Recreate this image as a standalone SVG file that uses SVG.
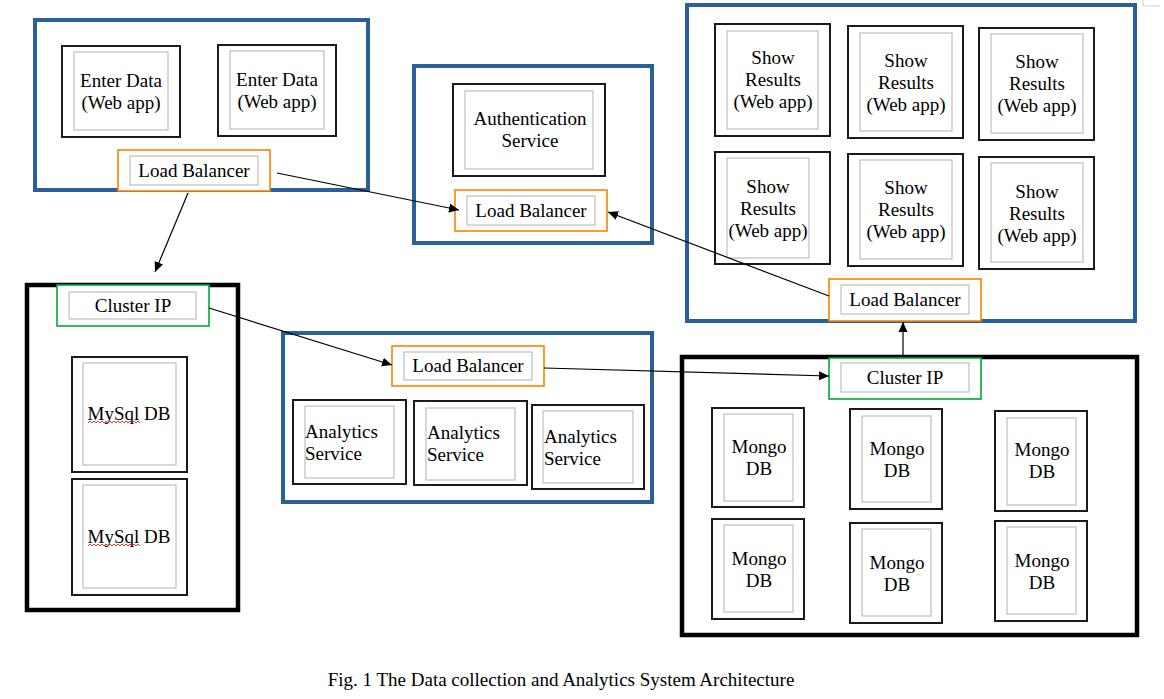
<svg xmlns="http://www.w3.org/2000/svg" width="1164" height="699" viewBox="0 0 1164 699">
<style>
.bg{fill:#fff}
.cb{fill:none;stroke:#2a6099;stroke-width:4}
.ck{fill:none;stroke:#000;stroke-width:4.5}
.bx{fill:#fff;stroke:#1a1a1a;stroke-width:2}
.in{fill:none;stroke:#bfbfbf;stroke-width:1.2}
.lb{fill:#fff;stroke:#ff8000;stroke-width:1.6}
.ip{fill:#fff;stroke:#00a933;stroke-width:1.6}
text{font-family:"Liberation Serif","Times New Roman",serif;font-size:19px;fill:#000}
.c{text-anchor:middle}
.cn{fill:none;stroke:#000;stroke-width:1.2}
.sq{fill:none;stroke:#e02020;stroke-width:0.9}
</style>
<defs>
<marker id="ah" viewBox="0 0 10 10" refX="10" refY="5" markerWidth="10" markerHeight="10" markerUnits="userSpaceOnUse" orient="auto">
<path d="M0,0.5 L10,5 L0,9.5 Z" fill="#000"/>
</marker>
</defs>
<rect class="bg" x="0" y="0" width="1164" height="699"/>
<polyline points="1143,0 1143,6 1160,6" fill="none" stroke="#d0d0d0" stroke-width="1.2"/>

<g id="enter-data-group">
<rect class="cb" x="35" y="20" width="333" height="170"/>
<g id="enter-data-1">
<rect class="bx" x="62" y="46" width="118" height="91"/>
<rect class="in" x="74" y="52" width="94" height="78"/>
<text class="c" x="121" y="87">Enter Data</text>
<text class="c" x="121" y="109">(Web app)</text>
</g>
<g id="enter-data-2">
<rect class="bx" x="218" y="45" width="118" height="91"/>
<rect class="in" x="230" y="51" width="94" height="78"/>
<text class="c" x="277" y="86">Enter Data</text>
<text class="c" x="277" y="108">(Web app)</text>
</g>
<g id="lb-enter">
<rect class="lb" x="118" y="150" width="152" height="41"/>
<rect class="in" x="130" y="156" width="128" height="29"/>
<text class="c" x="194" y="177">Load Balancer</text>
</g>
</g>

<g id="auth-group">
<rect class="cb" x="414" y="66" width="238" height="177"/>
<g id="auth-service">
<rect class="bx" x="453" y="84" width="152" height="92"/>
<rect class="in" x="465" y="91" width="128" height="78"/>
<text class="c" x="530" y="125">Authentication</text>
<text class="c" x="530" y="147">Service</text>
</g>
<g id="lb-auth">
<rect class="lb" x="455" y="190" width="152" height="41"/>
<rect class="in" x="467" y="196" width="128" height="29"/>
<text class="c" x="531" y="217">Load Balancer</text>
</g>
</g>

<g id="show-results-group">
<rect class="cb" x="687" y="5" width="448" height="316"/>
<g id="show-1">
<rect class="bx" x="715" y="24" width="115" height="112"/>
<rect class="in" x="727" y="31" width="91" height="98"/>
<text class="c" x="773" y="64">Show</text>
<text class="c" x="773" y="86">Results</text>
<text class="c" x="773" y="108">(Web app)</text>
</g>
<g id="show-2">
<rect class="bx" x="848" y="26" width="115" height="112"/>
<rect class="in" x="860" y="33" width="92" height="98"/>
<text class="c" x="906" y="67">Show</text>
<text class="c" x="906" y="89">Results</text>
<text class="c" x="906" y="111">(Web app)</text>
</g>
<g id="show-3">
<rect class="bx" x="979" y="28" width="115" height="112"/>
<rect class="in" x="991" y="34" width="92" height="99"/>
<text class="c" x="1037" y="68">Show</text>
<text class="c" x="1037" y="90">Results</text>
<text class="c" x="1037" y="112">(Web app)</text>
</g>
<g id="show-4">
<rect class="bx" x="715" y="152" width="115" height="112"/>
<rect class="in" x="727" y="158" width="82" height="100"/>
<text class="c" x="768" y="193">Show</text>
<text class="c" x="768" y="215">Results</text>
<text class="c" x="768" y="237">(Web app)</text>
</g>
<g id="show-5">
<rect class="bx" x="848" y="154" width="115" height="112"/>
<rect class="in" x="860" y="160" width="92" height="99"/>
<text class="c" x="906" y="194">Show</text>
<text class="c" x="906" y="216">Results</text>
<text class="c" x="906" y="238">(Web app)</text>
</g>
<g id="show-6">
<rect class="bx" x="979" y="157" width="115" height="112"/>
<rect class="in" x="991" y="163" width="92" height="99"/>
<text class="c" x="1037" y="198">Show</text>
<text class="c" x="1037" y="220">Results</text>
<text class="c" x="1037" y="242">(Web app)</text>
</g>
<g id="lb-show">
<rect class="lb" x="829" y="279" width="152" height="42"/>
<rect class="in" x="841" y="285" width="128" height="29"/>
<text class="c" x="905" y="306">Load Balancer</text>
</g>
</g>

<g id="mysql-group">
<rect class="ck" x="27" y="285" width="211" height="325"/>
<g id="cluster-ip-mysql">
<rect class="ip" x="57" y="285" width="152" height="41"/>
<rect class="in" x="69" y="292" width="127" height="27"/>
<text class="c" x="133" y="312">Cluster IP</text>
</g>
<g id="mysql-1">
<rect class="bx" x="72" y="357" width="115" height="115"/>
<rect class="in" x="83" y="363" width="93" height="102"/>
<text class="c" x="129" y="420">MySql DB</text>
<path class="sq" d="M88,423 l2,-2 l2,2 l2,-2 l2,2 l2,-2 l2,2 l2,-2 l2,2 l2,-2 l2,2 l2,-2 l2,2 l2,-2 l2,2 l2,-2 l2,2 l2,-2 l2,2 l2,-2 l2,2 l2,-2 l2,2 l2,-2 l2,2 l2,-2 l2,2"/>
</g>
<g id="mysql-2">
<rect class="bx" x="72" y="479" width="115" height="116"/>
<rect class="in" x="83" y="485" width="93" height="103"/>
<text class="c" x="129" y="543">MySql DB</text>
<path class="sq" d="M88,546 l2,-2 l2,2 l2,-2 l2,2 l2,-2 l2,2 l2,-2 l2,2 l2,-2 l2,2 l2,-2 l2,2 l2,-2 l2,2 l2,-2 l2,2 l2,-2 l2,2 l2,-2 l2,2 l2,-2 l2,2 l2,-2 l2,2 l2,-2 l2,2"/>
</g>
</g>

<g id="analytics-group">
<rect class="cb" x="283" y="333" width="369" height="169"/>
<g id="lb-analytics">
<rect class="lb" x="392" y="346" width="152" height="40"/>
<rect class="in" x="404" y="352" width="128" height="28"/>
<text class="c" x="468" y="372">Load Balancer</text>
</g>
<g id="analytics-1">
<rect class="bx" x="293" y="400" width="113" height="84"/>
<rect class="in" x="305" y="406" width="89" height="72"/>
<text x="305" y="438">Analytics</text>
<text x="305" y="460">Service</text>
</g>
<g id="analytics-2">
<rect class="bx" x="414" y="401" width="113" height="84"/>
<rect class="in" x="426" y="408" width="89" height="72"/>
<text x="427" y="439">Analytics</text>
<text x="427" y="461">Service</text>
</g>
<g id="analytics-3">
<rect class="bx" x="532" y="405" width="112" height="84"/>
<rect class="in" x="543" y="411" width="90" height="72"/>
<text x="544" y="443">Analytics</text>
<text x="544" y="465">Service</text>
</g>
</g>

<g id="mongo-group">
<rect class="ck" x="682" y="357" width="455" height="278"/>
<g id="cluster-ip-mongo">
<rect class="ip" x="829" y="358" width="152" height="41"/>
<rect class="in" x="841" y="363" width="128" height="29"/>
<text class="c" x="905" y="384">Cluster IP</text>
</g>
<g id="mongo-1">
<rect class="bx" x="712" y="408" width="92" height="99"/>
<rect class="in" x="724" y="414" width="69" height="87"/>
<text class="c" x="759" y="453">Mongo</text>
<text class="c" x="759" y="475">DB</text>
</g>
<g id="mongo-2">
<rect class="bx" x="850" y="409" width="92" height="100"/>
<rect class="in" x="862" y="416" width="69" height="86"/>
<text class="c" x="897" y="455">Mongo</text>
<text class="c" x="897" y="477">DB</text>
</g>
<g id="mongo-3">
<rect class="bx" x="995" y="411" width="92" height="100"/>
<rect class="in" x="1007" y="418" width="69" height="87"/>
<text class="c" x="1042" y="456">Mongo</text>
<text class="c" x="1042" y="478">DB</text>
</g>
<g id="mongo-4">
<rect class="bx" x="712" y="519" width="92" height="100"/>
<rect class="in" x="724" y="525" width="69" height="87"/>
<text class="c" x="759" y="565">Mongo</text>
<text class="c" x="759" y="587">DB</text>
</g>
<g id="mongo-5">
<rect class="bx" x="850" y="523" width="92" height="100"/>
<rect class="in" x="862" y="529" width="69" height="87"/>
<text class="c" x="897" y="569">Mongo</text>
<text class="c" x="897" y="591">DB</text>
</g>
<g id="mongo-6">
<rect class="bx" x="995" y="521" width="92" height="100"/>
<rect class="in" x="1007" y="527" width="69" height="87"/>
<text class="c" x="1042" y="567">Mongo</text>
<text class="c" x="1042" y="589">DB</text>
</g>
</g>

<g id="connectors">
<line class="cn" x1="277" y1="173" x2="459" y2="210" marker-end="url(#ah)"/>
<line class="cn" x1="188" y1="193" x2="155" y2="272" marker-end="url(#ah)"/>
<line class="cn" x1="829" y1="296" x2="608" y2="212" marker-end="url(#ah)"/>
<line class="cn" x1="209" y1="308" x2="392" y2="365" marker-end="url(#ah)"/>
<line class="cn" x1="544" y1="368" x2="829" y2="376" marker-end="url(#ah)"/>
<line class="cn" x1="903" y1="357" x2="903" y2="322" marker-end="url(#ah)"/>
</g>

<text class="c" x="561" y="686">Fig. 1 The Data collection and Analytics System Architecture</text>
</svg>
